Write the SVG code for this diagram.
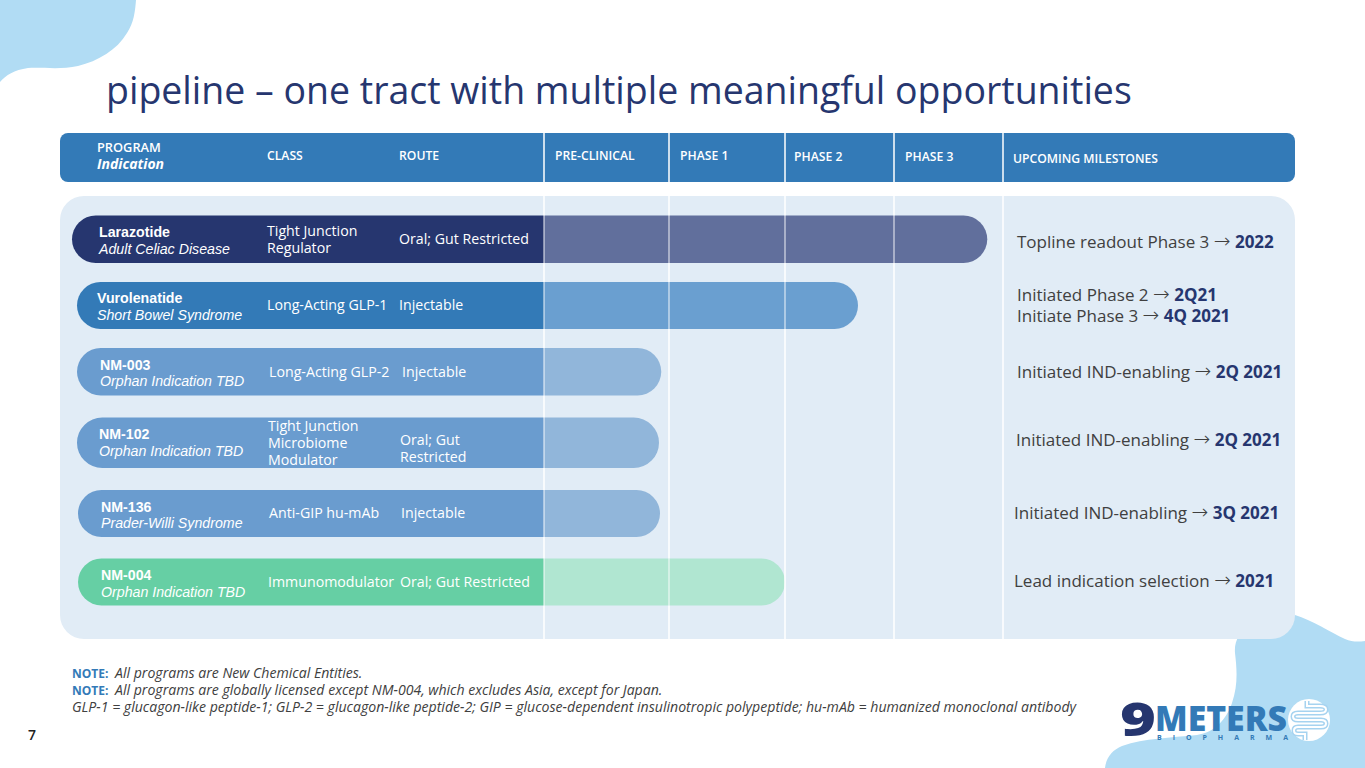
<svg xmlns="http://www.w3.org/2000/svg" width="1365" height="768" viewBox="0 0 1365 768">
<style>
text{font-family:"Open Sans","Noto Sans",sans-serif}
.h{font-size:12.200px;font-weight:600;fill:#fff}
.p{font-family:"Liberation Sans",Arial,sans-serif;font-size:14.200px;font-weight:700;fill:#fff}
.i{font-family:"Liberation Sans",Arial,sans-serif;font-size:14.200px;font-style:italic;fill:#fff}
.c{font-size:14.200px;fill:#fff}
.m{font-size:17px;fill:#404040}
.m tspan{font-weight:700;fill:#26366f}
.m .a{font-family:"DejaVu Sans",sans-serif;font-size:20px;font-weight:200;fill:#404040}
.n{font-size:14.100px;font-style:italic;fill:#404040}
.nb{font-size:12px;font-weight:700;font-style:normal;fill:#337ab7}
.g{stroke:#fff;stroke-width:1.500;fill:none}
.g2{stroke:#fff;stroke-width:1.300;stroke-opacity:.7;fill:none}
.lg{font-weight:800}
</style>
<path id="blob-top" d="M0 0H136C135 12 134 22 127 33C117 50 98 61 78 66C60 70 42 67 28 68C14 70 6 75 0 82Z" fill="#b1dcf4"/>
<path id="blob-bottom" d="M1295 615C1312 620 1330 632 1345 639C1352 642 1358 642 1365 641V768H1105C1106 758 1112 750 1122 746C1145 738 1170 738 1197 735C1215 732 1226 720 1232 703C1238 685 1237 670 1235 653C1234 640 1240 632 1250 625L1262 615Z" fill="#b1dcf4"/>
<text id="title" x="106" y="104" font-size="37.470" fill="#26366f">pipeline – one tract with multiple meaningful opportunities</text>
<g id="header">
<rect x="60" y="133" width="1235" height="49" rx="8" fill="#337ab7"/>
<text class="h" x="97" y="152" style="font-size:12.800px">PROGRAM</text>
<text class="h" x="97" y="169" font-style="italic" style="font-size:14px;font-weight:700">Indication</text>
<text class="h" x="267" y="160">CLASS</text>
<text class="h" x="399" y="160">ROUTE</text>
<text class="h" x="555" y="160">PRE-CLINICAL</text>
<text class="h" x="680" y="160">PHASE 1</text>
<text class="h" x="794" y="161">PHASE 2</text>
<text class="h" x="905" y="161">PHASE 3</text>
<text class="h" x="1013" y="163">UPCOMING MILESTONES</text>
</g>
<rect id="panel" x="60" y="196" width="1235" height="443" rx="24" fill="#e1ecf6"/>
<g id="row-larazotide">
<path d="M544 215.500H963.500A23.750 23.750 0 0 1 963.500 263H544Z" fill="#616f9c"/>
<path d="M544 215.500H95.750A23.750 23.750 0 0 0 95.750 263H544Z" fill="#26366f"/>
<text class="p" x="99" y="237">Larazotide</text><text class="i" x="99" y="254">Adult Celiac Disease</text>
<text class="c" x="267" y="236">Tight Junction</text><text class="c" x="267" y="253">Regulator</text>
<text class="c" x="399" y="244">Oral; Gut Restricted</text>
<text class="m" x="1017" y="248">Topline readout Phase 3 <tspan class="a">→</tspan> <tspan>2022</tspan></text>
</g>
<g id="row-vurolenatide">
<path d="M544 282H834.500A23.500 23.500 0 0 1 834.500 329H544Z" fill="#6a9fd0"/>
<path d="M544 282H100.500A23.500 23.500 0 0 0 100.500 329H544Z" fill="#337ab7"/>
<text class="p" x="97" y="303">Vurolenatide</text><text class="i" x="97" y="320">Short Bowel Syndrome</text>
<text class="c" x="267" y="310">Long-Acting GLP-1</text>
<text class="c" x="399" y="310">Injectable</text>
<text class="m" x="1017" y="301">Initiated Phase 2 <tspan class="a">→</tspan> <tspan>2Q21</tspan></text>
<text class="m" x="1017" y="322">Initiate Phase 3 <tspan class="a">→</tspan> <tspan>4Q 2021</tspan></text>
</g>
<g id="row-nm003">
<path d="M544 348H637.500A23.750 23.750 0 0 1 637.500 395.500H544Z" fill="#91b6da"/>
<path d="M544 348H100.750A23.750 23.750 0 0 0 100.750 395.500H544Z" fill="#6a9ccf"/>
<text class="p" x="100" y="370">NM-003</text><text class="i" x="100" y="386">Orphan Indication TBD</text>
<text class="c" x="269" y="377">Long-Acting GLP-2</text>
<text class="c" x="402" y="377">Injectable</text>
<text class="m" x="1017" y="378">Initiated IND-enabling <tspan class="a">→</tspan> <tspan>2Q 2021</tspan></text>
</g>
<g id="row-nm102">
<path d="M544 417.500H633.750A25.250 25.250 0 0 1 633.750 468H544Z" fill="#91b6da"/>
<path d="M544 417.500H102.250A25.250 25.250 0 0 0 102.250 468H544Z" fill="#6a9ccf"/>
<text class="p" x="99" y="439">NM-102</text><text class="i" x="99" y="456">Orphan Indication TBD</text>
<text class="c" x="268" y="431">Tight Junction</text><text class="c" x="268" y="448">Microbiome</text><text class="c" x="268" y="465">Modulator</text>
<text class="c" x="400" y="445">Oral; Gut</text><text class="c" x="400" y="462">Restricted</text>
<text class="m" x="1016" y="446">Initiated IND-enabling <tspan class="a">→</tspan> <tspan>2Q 2021</tspan></text>
</g>
<g id="row-nm136">
<path d="M544 490H636.500A23.500 23.500 0 0 1 636.500 537H544Z" fill="#91b6da"/>
<path d="M544 490H101.500A23.500 23.500 0 0 0 101.500 537H544Z" fill="#6a9ccf"/>
<text class="p" x="101" y="512">NM-136</text><text class="i" x="101" y="528">Prader-Willi Syndrome</text>
<text class="c" x="269" y="518">Anti-GIP hu-mAb</text>
<text class="c" x="401" y="518">Injectable</text>
<text class="m" x="1014" y="519">Initiated IND-enabling <tspan class="a">→</tspan> <tspan>3Q 2021</tspan></text>
</g>
<g id="row-nm004">
<path d="M544 558.500H761.500A23.500 23.500 0 0 1 761.500 605.500H544Z" fill="#b0e6d1"/>
<path d="M544 558.500H101.500A23.500 23.500 0 0 0 101.500 605.500H544Z" fill="#66cfa4"/>
<text class="p" x="101" y="580">NM-004</text><text class="i" x="101" y="597">Orphan Indication TBD</text>
<text class="c" x="268" y="587">Immunomodulator</text>
<text class="c" x="400" y="587">Oral; Gut Restricted</text>
<text class="m" x="1014" y="587">Lead indication selection <tspan class="a">→</tspan> <tspan>2021</tspan></text>
</g>
<g id="connectors">
<path class="g" d="M544 133V215.500M544 263V282M544 329V348M544 395.500V417.500M544 468V490M544 537V558.500M544 605.500V639"/>
<path class="g2" d="M544 215.500V263M544 282V329M544 348V395.500M544 417.500V468M544 490V537M544 558.500V605.500"/>
<path class="g" d="M669 133V215.500M669 263V282M669 329V558.500M669 605.500V639"/>
<path class="g2" d="M669 215.500V263M669 282V329M669 558.500V605.500"/>
<path class="g" d="M785 133V215.500M785 263V282M785 329V639"/>
<path class="g2" d="M785 215.500V263M785 282V329"/>
<path class="g" d="M894 133V215.500M894 263V639"/>
<path class="g2" d="M894 215.500V263"/>
<path class="g" d="M1003 133V639"/>
</g>
<g id="notes">
<text class="n" x="72" y="678"><tspan class="nb">NOTE:</tspan><tspan x="115">All programs are New Chemical Entities.</tspan></text>
<text class="n" x="72" y="695"><tspan class="nb">NOTE:</tspan><tspan x="115">All programs are globally licensed except NM-004, which excludes Asia, except for Japan.</tspan></text>
<text class="n" x="72" y="712">GLP-1 = glucagon-like peptide-1; GLP-2 = glucagon-like peptide-2; GIP = glucose-dependent insulinotropic polypeptide; hu-mAb = humanized monoclonal antibody</text>
</g>
<text id="page" x="28" y="740" font-size="14" font-weight="600" fill="#222">7</text>
<g id="logo">
<text class="lg" x="1120" y="736" font-size="46" fill="#26366f" textLength="36" lengthAdjust="spacingAndGlyphs">9</text>
<text class="lg" x="1155" y="731" font-size="35" fill="#337ab7" textLength="132" lengthAdjust="spacingAndGlyphs">METERS</text>
<text x="1157" y="739.500" font-size="7" font-weight="700" fill="#337ab7" textLength="131">B I O P H A R M A</text>
<circle cx="1309" cy="720" r="21" fill="#fff"/>
<path d="M1307 701V706H1320Q1326 706 1326 709.500T1320 713H1298Q1293 713 1293 716.500T1298 720H1321Q1326 720 1326 723.500T1321 727H1298Q1294 727 1294 730.500T1298 734H1305V740" fill="none" stroke="#a6d3f0" stroke-width="5"/>
<path d="M1307 701V706H1320Q1326 706 1326 709.500T1320 713H1298Q1293 713 1293 716.500T1298 720H1321Q1326 720 1326 723.500T1321 727H1298Q1294 727 1294 730.500T1298 734H1305V740" fill="none" stroke="#fff" stroke-width="2"/>
</g>
</svg>
